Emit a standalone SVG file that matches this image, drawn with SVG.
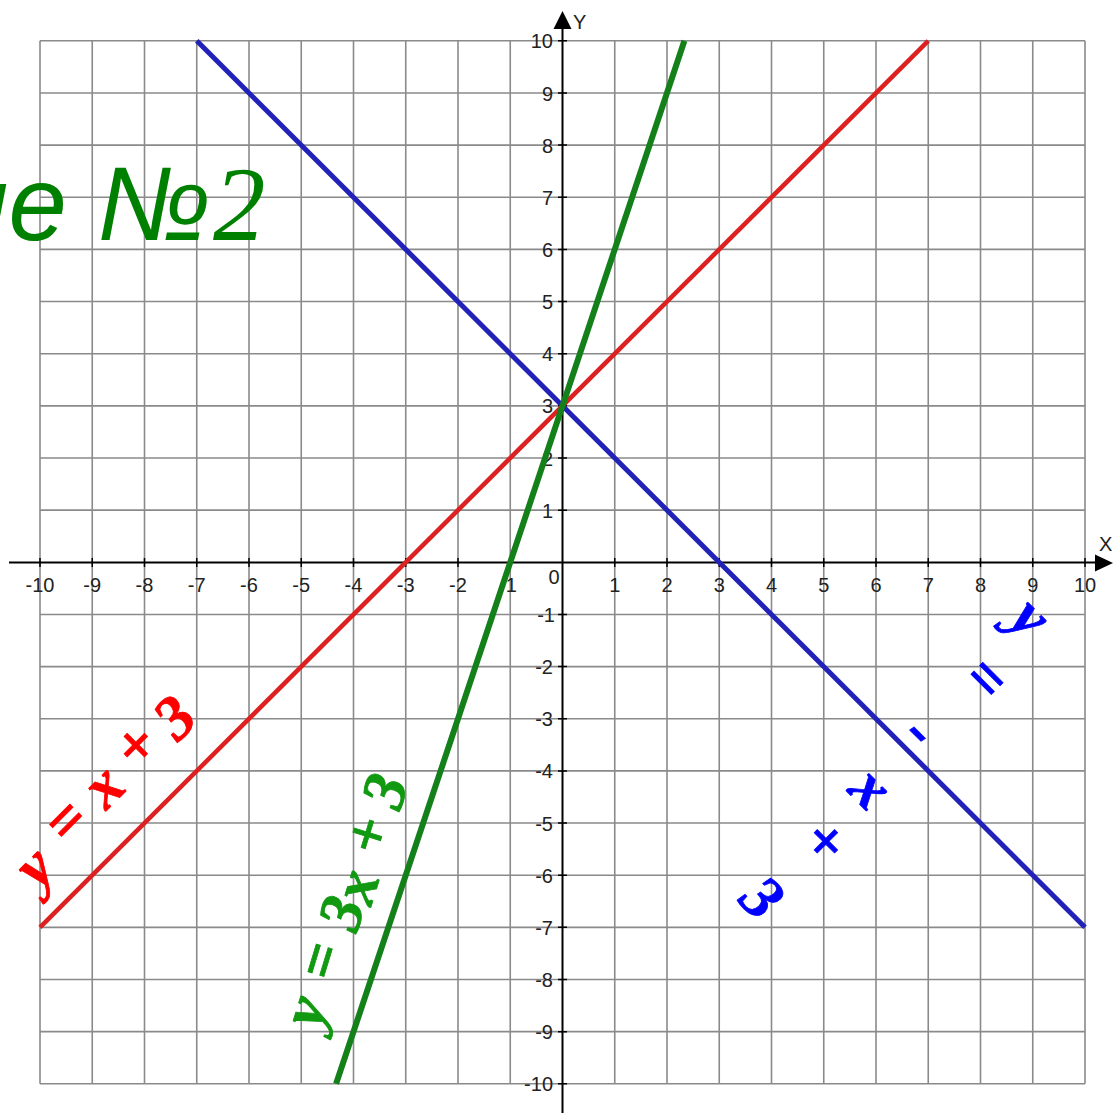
<svg xmlns="http://www.w3.org/2000/svg" width="1115" height="1113" viewBox="0 0 1115 1113">
<style>
.grid{stroke:#8a8a8a;stroke-width:1.6;fill:none}
.axis{stroke:#000;stroke-width:2;fill:none}
.tick{stroke:#000;stroke-width:1.5}
.num{font-family:"Liberation Sans",Arial,sans-serif;font-size:20px;fill:#222}
.xl{text-anchor:middle}
.yl{text-anchor:end}
.eq{font-family:"Liberation Serif","Times New Roman",serif;font-weight:bold;font-style:italic;font-size:62px;text-anchor:middle;stroke-width:0.8}
.line{fill:none;stroke-linecap:butt}
</style>
<rect width="1115" height="1113" fill="#fff"/>
<g id="grid">
<path class="grid" d="M40 40.8V1083.8M92.25 40.8V1083.8M144.5 40.8V1083.8M196.75 40.8V1083.8M249 40.8V1083.8M301.25 40.8V1083.8M353.5 40.8V1083.8M405.75 40.8V1083.8M458 40.8V1083.8M510.25 40.8V1083.8M614.75 40.8V1083.8M667 40.8V1083.8M719.25 40.8V1083.8M771.5 40.8V1083.8M823.75 40.8V1083.8M876 40.8V1083.8M928.25 40.8V1083.8M980.5 40.8V1083.8M1032.75 40.8V1083.8M1085 40.8V1083.8"/>
<path class="grid" d="M40 40.8H1085M40 92.95H1085M40 145.1H1085M40 197.25H1085M40 249.4H1085M40 301.55H1085M40 353.7H1085M40 405.85H1085M40 458H1085M40 510.15H1085M40 614.45H1085M40 666.6H1085M40 718.75H1085M40 770.9H1085M40 823.05H1085M40 875.2H1085M40 927.35H1085M40 979.5H1085M40 1031.65H1085M40 1083.8H1085"/>
</g>
<g id="axes">
<path class="axis" d="M9 562.5H1097M562.5 26V1113"/>
<path d="M1113 563L1095 554.5V571.5Z M562.5 11L553.5 29H571.5Z" fill="#000"/>
<path class="tick" d="M40 558V567M92.25 558V567M144.5 558V567M196.75 558V567M249 558V567M301.25 558V567M353.5 558V567M405.75 558V567M458 558V567M510.25 558V567M614.75 558V567M667 558V567M719.25 558V567M771.5 558V567M823.75 558V567M876 558V567M928.25 558V567M980.5 558V567M1032.75 558V567M1085 558V567"/>
<path class="tick" d="M558 40.8H567M558 92.95H567M558 145.1H567M558 197.25H567M558 249.4H567M558 301.55H567M558 353.7H567M558 405.85H567M558 458H567M558 510.15H567M558 614.45H567M558 666.6H567M558 718.75H567M558 770.9H567M558 823.05H567M558 875.2H567M558 927.35H567M558 979.5H567M558 1031.65H567M558 1083.8H567"/>
<text class="num" x="573" y="29">Y</text>
<text class="num" x="1099" y="551">X</text>
</g>
<g id="xlabels" class="num xl">
<text x="40" y="592">-10</text><text x="92.25" y="592">-9</text><text x="144.5" y="592">-8</text><text x="196.75" y="592">-7</text><text x="249" y="592">-6</text><text x="301.25" y="592">-5</text><text x="353.5" y="592">-4</text><text x="405.75" y="592">-3</text><text x="458" y="592">-2</text><text x="508" y="592">-1</text><text x="554" y="584">0</text><text x="614.75" y="592">1</text><text x="667" y="592">2</text><text x="719.25" y="592">3</text><text x="771.5" y="592">4</text><text x="823.75" y="592">5</text><text x="876" y="592">6</text><text x="928.25" y="592">7</text><text x="980.5" y="592">8</text><text x="1032.75" y="592">9</text><text x="1085" y="592">10</text>
</g>
<g id="ylabels" class="num yl">
<text x="553" y="48.3">10</text><text x="553" y="100.5">9</text><text x="553" y="152.6">8</text><text x="553" y="204.8">7</text><text x="553" y="256.9">6</text><text x="553" y="309">5</text><text x="553" y="361.2">4</text><text x="553" y="413.4">3</text><text x="553" y="465.5">2</text><text x="553" y="517.7">1</text><text x="555" y="622">-1</text><text x="553" y="674.1">-2</text><text x="553" y="726.3">-3</text><text x="553" y="778.4">-4</text><text x="553" y="830.6">-5</text><text x="553" y="882.7">-6</text><text x="553" y="934.9">-7</text><text x="553" y="987">-8</text><text x="553" y="1039.2">-9</text><text x="553" y="1091.3">-10</text>
</g>
<g id="title">
<text x="-50" y="240" font-family="Liberation Sans,Arial,sans-serif" font-style="italic" font-size="105" fill="#008000">ие<tspan x="97">№</tspan><tspan x="213" font-family="Liberation Serif,Times New Roman,serif">2</tspan></text>
</g>
<g id="label-red">
<text class="eq" fill="#f00" stroke="#f00" transform="translate(37 874) rotate(-45)"><tspan x="3" y="13">y</tspan><tspan x="58" y="2.8">=</tspan><tspan x="109" y="4.4">x</tspan><tspan x="160.5" y="-0.8">+</tspan><tspan x="208" y="7">3</tspan></text>
</g>
<g id="label-green">
<text class="eq" fill="#119911" stroke="#119911" transform="translate(317 1015) rotate(-73)"><tspan x="0" y="7.4">y</tspan><tspan x="53" y="7.6">=</tspan><tspan x="104.5" y="14">3</tspan><tspan x="134.5" y="20">x</tspan><tspan x="187" y="15.8">+</tspan><tspan x="234" y="19.6">3</tspan></text>
</g>
<g id="label-blue">
<text class="eq" fill="#00f" stroke="#00f" transform="translate(1022 626) rotate(45)"><tspan x="0" y="7.4">y</tspan><tspan x="12" y="82.5">=</tspan><tspan x="3" y="165">-</tspan><tspan x="8" y="241">x</tspan><tspan x="13" y="311.5">+</tspan><tspan x="8.5" y="396">3</tspan></text>
</g>
<g id="connectors">
<line id="line-red" class="line" x1="40" y1="927.35" x2="928.25" y2="40.8" stroke="#dd2020" stroke-width="4.5"/>
<line id="line-blue" class="line" x1="196.75" y1="40.8" x2="1085" y2="927.35" stroke="#2222b8" stroke-width="5"/>
<line id="line-green" class="line" x1="336.1" y1="1083.8" x2="684.4" y2="40.8" stroke="#13801a" stroke-width="6"/>
</g>
</svg>
